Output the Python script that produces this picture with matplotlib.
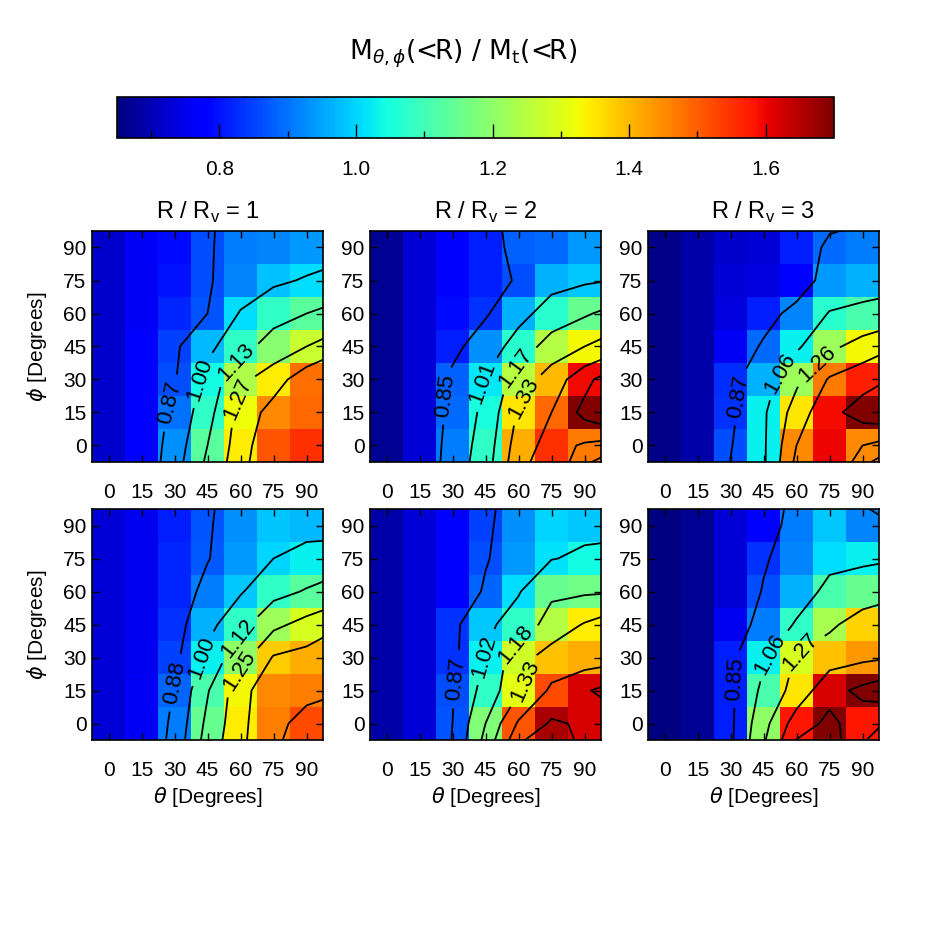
import matplotlib
matplotlib.use('Agg')
import matplotlib.pyplot as plt
import numpy as np

plt.rcParams['font.family'] = ['Liberation Sans', 'DejaVu Sans']
plt.rcParams['mathtext.fontset'] = 'dejavusans'

theta = [0, 15, 30, 45, 60, 75, 90]
phi = [0, 15, 30, 45, 60, 75, 90]
cbar_ticks = [0.8, 1.0, 1.2, 1.4, 1.6]
cbar_minor = [0.7, 0.9, 1.1, 1.3, 1.5]
vmin, vmax = 0.65, 1.70

# rows go phi = 0 ... 90, columns theta = 0 ... 90
top_r1 = [[0.72, 0.77, 0.93, 1.13, 1.34, 1.51, 1.55],
          [0.72, 0.77, 0.90, 1.08, 1.32, 1.45, 1.49],
          [0.72, 0.77, 0.86, 1.04, 1.24, 1.34, 1.48],
          [0.72, 0.77, 0.85, 0.97, 1.08, 1.19, 1.27],
          [0.72, 0.76, 0.82, 0.87, 1.01, 1.08, 1.13],
          [0.72, 0.76, 0.80, 0.86, 0.92, 0.98, 1.01],
          [0.72, 0.76, 0.79, 0.86, 0.91, 0.92, 0.94]]
top_r2 = [[0.67, 0.73, 0.91, 1.08, 1.41, 1.55, 1.47],
          [0.67, 0.73, 0.89, 1.05, 1.35, 1.49, 1.70],
          [0.67, 0.73, 0.88, 1.02, 1.25, 1.40, 1.595],
          [0.67, 0.73, 0.81, 0.93, 1.07, 1.245, 1.33],
          [0.67, 0.73, 0.79, 0.834, 0.965, 1.07, 1.15],
          [0.67, 0.73, 0.77, 0.81, 0.86, 0.965, 0.99],
          [0.67, 0.73, 0.77, 0.81, 0.88, 0.89, 0.94]]
top_r3 = [[0.66, 0.69, 0.86, 1.03, 1.45, 1.60, 1.45],
          [0.66, 0.69, 0.834, 1.03, 1.35, 1.59, 1.74],
          [0.66, 0.69, 0.83, 0.965, 1.22, 1.47, 1.57],
          [0.66, 0.69, 0.76, 0.89, 1.03, 1.22, 1.33],
          [0.66, 0.69, 0.74, 0.81, 0.92, 1.07, 1.11],
          [0.66, 0.69, 0.73, 0.74, 0.78, 0.94, 0.965],
          [0.66, 0.69, 0.72, 0.73, 0.81, 0.89, 0.91]]
bot_r1 = [[0.73, 0.76, 0.91, 1.15, 1.34, 1.465, 1.52],
          [0.73, 0.76, 0.886, 1.11, 1.33, 1.45, 1.465],
          [0.73, 0.755, 0.85, 1.03, 1.20, 1.38, 1.41],
          [0.73, 0.755, 0.834, 0.965, 1.08, 1.22, 1.29],
          [0.73, 0.755, 0.82, 0.91, 0.99, 1.08, 1.13],
          [0.73, 0.755, 0.82, 0.875, 0.94, 1.00, 1.03],
          [0.73, 0.755, 0.81, 0.87, 0.93, 0.985, 0.97]]
bot_r2 = [[0.69, 0.73, 0.87, 1.18, 1.51, 1.66, 1.62],
          [0.69, 0.73, 0.86, 1.08, 1.31, 1.52, 1.62],
          [0.69, 0.73, 0.834, 1.03, 1.28, 1.39, 1.41],
          [0.69, 0.73, 0.834, 0.99, 1.08, 1.245, 1.34],
          [0.69, 0.73, 0.77, 0.886, 1.01, 1.15, 1.16],
          [0.69, 0.73, 0.78, 0.86, 0.94, 1.015, 1.04],
          [0.69, 0.73, 0.78, 0.85, 0.93, 1.00, 0.99]]
bot_r3 = [[0.65, 0.67, 0.81, 1.20, 1.58, 1.74, 1.58],
          [0.65, 0.67, 0.81, 1.11, 1.35, 1.62, 1.74],
          [0.65, 0.67, 0.81, 1.03, 1.29, 1.39, 1.435],
          [0.65, 0.67, 0.755, 0.91, 1.08, 1.23, 1.37],
          [0.65, 0.67, 0.73, 0.86, 0.965, 1.11, 1.15],
          [0.65, 0.67, 0.73, 0.834, 0.92, 1.01, 1.03],
          [0.65, 0.67, 0.73, 0.78, 0.91, 0.99, 0.92]]

lev_top_r1 = [0.87, 1.00, 1.13, 1.27, 1.40]
lev_top_r2 = [0.85, 1.01, 1.17, 1.33, 1.49, 1.65]
lev_top_r3 = [0.87, 1.06, 1.26, 1.45, 1.65]
lev_bot_r1 = [0.88, 1.00, 1.12, 1.25, 1.37, 1.49]
lev_bot_r2 = [0.87, 1.02, 1.18, 1.33, 1.49, 1.64]
lev_bot_r3 = [0.85, 1.06, 1.27, 1.48, 1.69]

# where the labels sit (theta, phi)
lab_top_r1 = [(21, 21.5), (39.5, 30.5), (57.5, 38), (62, 20)]
lab_top_r2 = [(21.5, 23), (40.5, 29), (60, 34), (64.5, 20)]
lab_top_r3 = [(27.5, 23), (52.5, 33), (71, 35)]
lab_bot_r1 = [(20.5, 20.5), (38.5, 31), (57, 40), (61, 23)]
lab_bot_r2 = [(25.5, 21), (42, 31), (58.5, 36), (67.5, 17.5)]
lab_bot_r3 = [(28, 20.5), (47.5, 32), (64, 29)]

titles = ['R / R$_\\mathregular{v}$ = 1', 'R / R$_\\mathregular{v}$ = 2',
          'R / R$_\\mathregular{v}$ = 3']

panels = [(top_r1, lev_top_r1, lab_top_r1), (top_r2, lev_top_r2, lab_top_r2),
          (top_r3, lev_top_r3, lab_top_r3), (bot_r1, lev_bot_r1, lab_bot_r1),
          (bot_r2, lev_bot_r2, lab_bot_r2), (bot_r3, lev_bot_r3, lab_bot_r3)]

W = 926.0
fig = plt.figure(figsize=(9.26, 9.26), dpi=100)

th = np.array(theta, float)
ph = np.array(phi, float)
dth = th[1] - th[0]
dph = ph[1] - ph[0]
th_edges = np.append(th - dth / 2, th[-1] + dth / 2)
ph_edges = np.append(ph - dph / 2, ph[-1] + dph / 2)
# grid padded one cell outward so the contours reach the frame
th_pad = np.concatenate([[th[0] - dth], th, [th[-1] + dth]])
ph_pad = np.concatenate([[ph[0] - dph], ph, [ph[-1] + dph]])

lefts = [92, 370, 648]
tops = [231, 509]
size = 231

mesh = None
for k, (z, lev, labs) in enumerate(panels):
    row, col = divmod(k, 3)
    ax = fig.add_axes([lefts[col] / W, 1 - (tops[row] + size) / W, size / W, size / W])
    z = np.array(z)
    mesh = ax.pcolormesh(th_edges, ph_edges, z, cmap='jet', vmin=vmin, vmax=vmax)
    zp = np.pad(z, 1, mode='reflect', reflect_type='odd')
    cs = ax.contour(th_pad, ph_pad, zp, levels=lev, colors='k', linewidths=1.3)
    ax.clabel(cs, levels=lev[:len(labs)], manual=labs, fmt='%.2f', fontsize=16,
              inline=True, inline_spacing=4)
    ax.set_xlim(th_edges[0], th_edges[-1])
    ax.set_ylim(ph_edges[0], ph_edges[-1])
    ax.set_xticks(theta)
    ax.set_yticks(phi)
    ax.tick_params(direction='in', top=True, right=True, length=5, width=1,
                   labelsize=15)
    ax.tick_params(axis='x', pad=15)
    ax.tick_params(axis='y', pad=4)
    for s in ax.spines.values():
        s.set_linewidth(1.2)
    if row == 0:
        ax.set_title(titles[col], fontsize=17, pad=9)
    else:
        ax.set_xlabel('$\\theta$ [Degrees]', fontsize=15, labelpad=4)
    if col == 0:
        ax.set_ylabel('$\\phi$ [Degrees]', fontsize=15, labelpad=10)

cax = fig.add_axes([117 / W, 1 - 138 / W, 717 / W, 41 / W])
cb = fig.colorbar(mesh, cax=cax, orientation='horizontal', ticks=cbar_ticks)
cax.set_xticks(cbar_minor, minor=True)
cax.xaxis.set_major_formatter(matplotlib.ticker.FormatStrFormatter('%.1f'))
cax.tick_params(which='both', direction='in', bottom=True, top=False,
                width=1, labelsize=15, pad=16)
cax.tick_params(which='major', length=10)
cax.tick_params(which='minor', length=5)
cb.outline.set_linewidth(1.2)

fig.text(0.5, 1 - 59 / W, 'M$_{\\theta,\\phi}$(<R) / M$_\\mathregular{t}$(<R)',
         ha='center', va='baseline', fontsize=19, family='DejaVu Sans')

fig.savefig('out.png', dpi=100)
